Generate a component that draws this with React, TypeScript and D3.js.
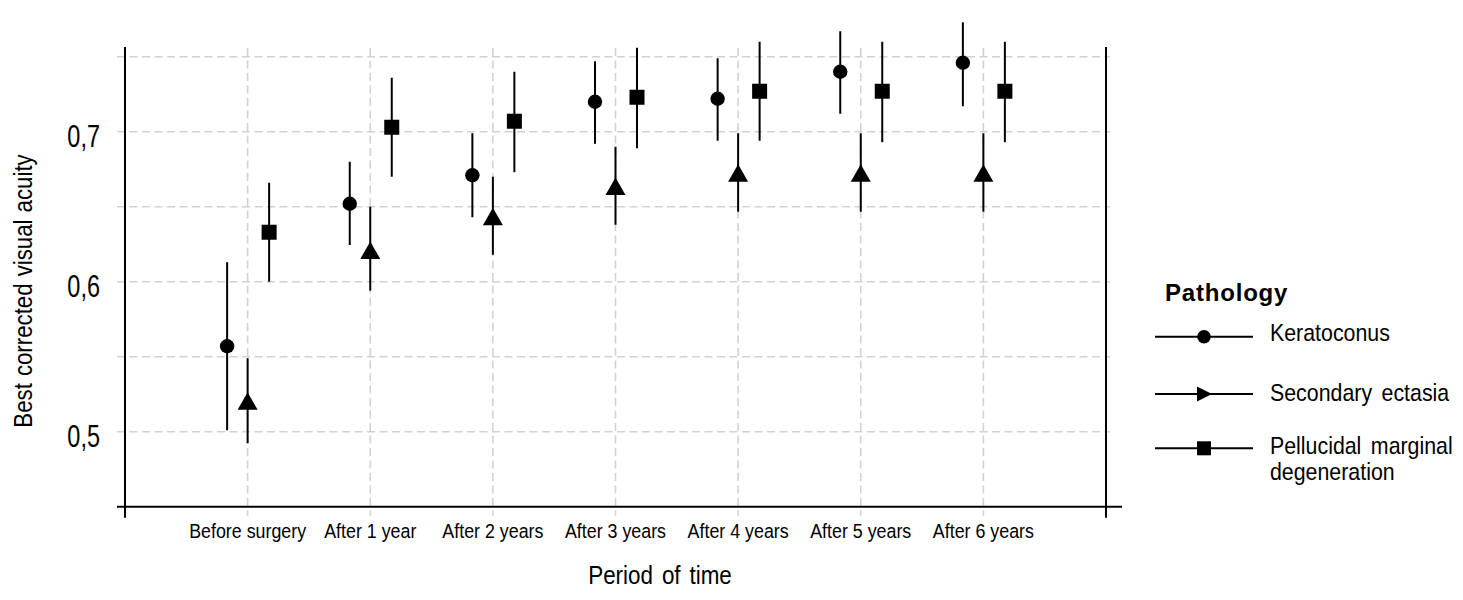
import React from "react";
import * as d3 from "d3";

const categories = [
  "Before surgery",
  "After 1 year",
  "After 2 years",
  "After 3 years",
  "After 4 years",
  "After 5 years",
  "After 6 years",
];

const keratoconusMean = [0.557, 0.652, 0.671, 0.72, 0.722, 0.74, 0.746];
const keratoconusLow = [0.501, 0.6245, 0.643, 0.692, 0.694, 0.712, 0.717];
const keratoconusHigh = [0.613, 0.68, 0.699, 0.747, 0.749, 0.767, 0.773];

const ectasiaMean = [0.5205, 0.621, 0.6435, 0.6637, 0.6725, 0.6725, 0.6725];
const ectasiaLow = [0.4923, 0.594, 0.618, 0.638, 0.6467, 0.6467, 0.6467];
const ectasiaHigh = [0.549, 0.65, 0.67, 0.69, 0.699, 0.699, 0.699];

const pmdMean = [0.633, 0.703, 0.707, 0.723, 0.727, 0.727, 0.727];
const pmdLow = [0.6, 0.67, 0.673, 0.689, 0.694, 0.693, 0.693];
const pmdHigh = [0.666, 0.736, 0.74, 0.756, 0.76, 0.76, 0.76];

const yTicks = [0.5, 0.6, 0.7];
const yGrid = [0.5, 0.55, 0.6, 0.65, 0.7, 0.75];

const seriesNames = ["Keratoconus", "Secondary ectasia", "Pellucidal marginal degeneration"];

const SANS = "'Liberation Sans', Arial, sans-serif";

type CTProps = {
  x: number;
  y: number;
  sx: number;
  size: number;
  anchor?: string;
  rotate?: number;
  bold?: boolean;
  ws?: number;
  ls?: number;
  children: React.ReactNode;
};

function CText({ x, y, sx, size, anchor = "start", rotate = 0, bold = false, ws = 0, ls = 0, children }: CTProps) {
  return (
    <text
      transform={`translate(${x},${y}) rotate(${rotate}) scale(${sx},1)`}
      textAnchor={anchor}
      fontFamily={SANS}
      fontSize={size}
      fontWeight={bold ? "bold" : "normal"}
      wordSpacing={ws}
      letterSpacing={ls}
      fill="#000"
    >
      {children}
    </text>
  );
}

export default function App() {
  const W = 1463;
  const H = 600;
  const x = d3.scaleLinear().domain([0, 8]).range([125, 1106]);
  const y = d3.scaleLinear().domain([0.45, 0.7565]).range([506.7, 47]);

  const series = [
    { name: seriesNames[0], mean: keratoconusMean, low: keratoconusLow, high: keratoconusHigh, off: -20.5, shape: "circle" },
    { name: seriesNames[1], mean: ectasiaMean, low: ectasiaLow, high: ectasiaHigh, off: 0, shape: "triangle" },
    { name: seriesNames[2], mean: pmdMean, low: pmdLow, high: pmdHigh, off: 21.5, shape: "square" },
  ];

  const marker = (shape: string, cx: number, cy: number, key: string, legend = false) => {
    if (shape === "circle") return <circle key={key} cx={cx} cy={cy} r={legend ? 6.8 : 7.2} fill="#000" />;
    if (shape === "square") {
      const s = legend ? 14 : 15;
      return <rect key={key} x={cx - s / 2} y={cy - s / 2} width={s} height={s} fill="#000" />;
    }
    if (legend) {
      return <path key={key} d={`M${cx - 7},${cy - 7.5}L${cx + 8},${cy}L${cx - 7},${cy + 7.5}Z`} fill="#000" />;
    }
    return <path key={key} d={`M${cx},${cy - 8.8}L${cx + 10},${cy + 8.8}L${cx - 10},${cy + 8.8}Z`} fill="#000" />;
  };

  const top = y(0.7565);
  const bottom = y(0.45);

  const legendRows = [336.7, 394, 448.3];

  return (
    <svg width={W} height={H} style={{ position: "absolute", left: 0, top: 0, background: "#fff" }}>
      <rect x={0} y={0} width={W} height={H} fill="#fff" />
      {/* horizontal grid */}
      {yGrid.map((v) => (
        <line key={"hg" + v} x1={117} x2={1110} y1={y(v)} y2={y(v)} stroke="#d2d2d2" strokeWidth={1.6} strokeDasharray="8,4.5" />
      ))}
      {/* vertical grid */}
      {categories.map((c, i) => (
        <line key={"vg" + c} x1={x(i + 1)} x2={x(i + 1)} y1={top + 1} y2={bottom + 9} stroke="#d2d2d2" strokeWidth={1.6} strokeDasharray="8,4.5" />
      ))}
      {/* axes */}
      <line x1={117} x2={1122} y1={bottom} y2={bottom} stroke="#000" strokeWidth={2} />
      <line x1={x(0)} x2={x(0)} y1={top} y2={bottom + 11} stroke="#000" strokeWidth={2} />
      <line x1={x(8)} x2={x(8)} y1={top} y2={bottom + 11} stroke="#000" strokeWidth={2} />

      {/* y tick labels */}
      {yTicks.map((v) => (
        <CText key={"yt" + v} x={100} y={y(v) + 15} sx={0.77} size={30.5} anchor="end">
          {d3.format(".1f")(v).replace(".", ",")}
        </CText>
      ))}
      {/* x tick labels */}
      {categories.map((c, i) => (
        <CText key={"xt" + c} x={x(i + 1)} y={537.5} sx={0.87} size={20.5} anchor="middle">
          {c}
        </CText>
      ))}
      {/* axis titles */}
      <CText x={660} y={584} sx={0.88} size={25.5} anchor="middle" ws={3}>
        Period of time
      </CText>
      <CText x={32} y={291} sx={0.89} size={25} anchor="middle" rotate={-90} ws={1}>
        Best corrected visual acuity
      </CText>

      {/* error bars and markers */}
      {series.map((s) =>
        categories.map((c, i) => {
          const cx = x(i + 1) + s.off;
          return (
            <g key={s.name + c}>
              <line x1={cx} x2={cx} y1={y(s.high[i])} y2={y(s.low[i])} stroke="#000" strokeWidth={2} />
              {marker(s.shape, cx, y(s.mean[i]), "m")}
            </g>
          );
        })
      )}

      {/* legend */}
      <CText x={1165} y={301} sx={1} size={24} bold ls={0.8}>
        Pathology
      </CText>
      {series.map((s, i) => (
        <g key={"lg" + s.name}>
          <line x1={1155} x2={1253} y1={legendRows[i]} y2={legendRows[i]} stroke="#000" strokeWidth={2} />
          {marker(s.shape, 1204, legendRows[i], "lm", true)}
        </g>
      ))}
      <CText x={1270} y={legendRows[0] + 4.5} sx={0.89} size={24} ws={2}>Keratoconus</CText>
      <CText x={1270} y={legendRows[1] + 7} sx={0.89} size={24} ws={4}>Secondary ectasia</CText>
      <CText x={1270} y={legendRows[2] + 6} sx={0.89} size={24} ws={4}>
        <tspan x={0}>Pellucidal marginal</tspan>
        <tspan x={0} dy={26}>degeneration</tspan>
      </CText>
    </svg>
  );
}
